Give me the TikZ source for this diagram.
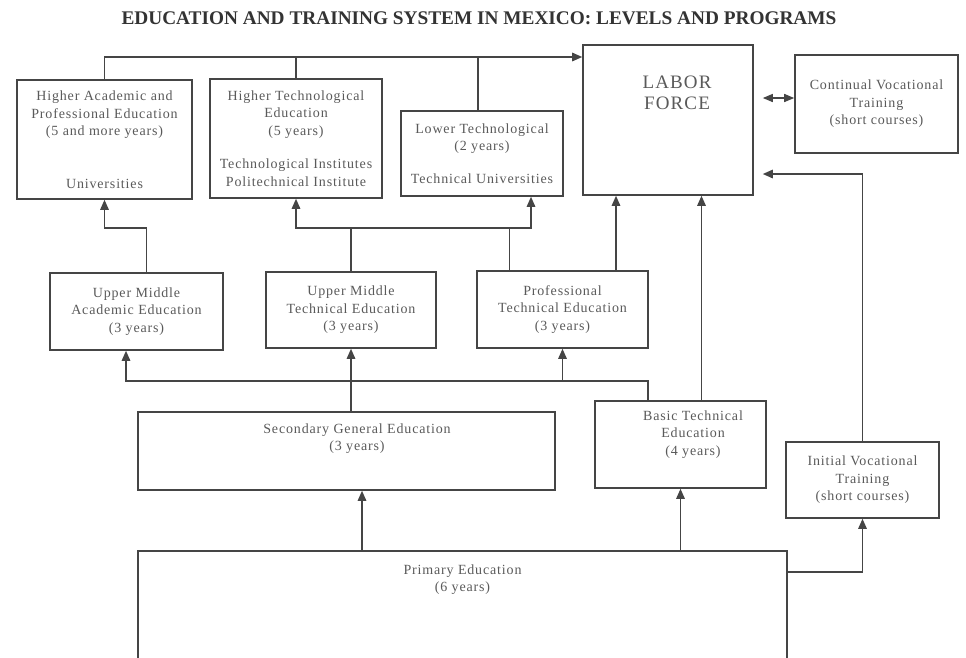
\documentclass[tikz,border=0pt]{standalone}
\usepackage{fontspec}
\setmainfont{Liberation Serif}
\newfontfamily\boxfont{Liberation Serif}[LetterSpace=6]
\usetikzlibrary{arrows.meta,positioning}
\definecolor{ink}{HTML}{454545}
\definecolor{txt}{HTML}{5A5A5A}

\begin{document}
\begin{tikzpicture}[x=1pt,y=-1pt,
    box/.style={draw=ink,line width=1.6pt,inner sep=0pt,align=center,text=txt,
      font={\boxfont\fontsize{14}{17.5}\selectfont}},
    lbl/.style={inner sep=0pt,align=center,text=txt,
      font={\boxfont\fontsize{14}{17.5}\selectfont}},
    link/.style={draw=ink,line width=1.4pt},
    >={Triangle[length=10pt,width=8.5pt]}]
    \useasboundingbox[fill=white] (0,0) rectangle (966,657);

    \node[font=\bfseries\fontsize{19.3}{22}\selectfont,text=black!80] (title) at (479,18)
        {EDUCATION AND TRAINING SYSTEM IN MEXICO: LEVELS AND PROGRAMS};

    % higher education and labor force
    \node[box,minimum width=175,minimum height=119] (hape) at (104.5,139.5)
        {Higher Academic and\\Professional Education\\(5 and more years)\\[35pt]Universities};
    \node[box,minimum width=172,minimum height=119] (hte) at (296,138.5)
        {Higher Technological\\Education\\(5 years)\\[16pt]Technological Institutes\\Politechnical Institute};
    \node[box,minimum width=162,minimum height=85] (lt) at (482,153.5)
        {Lower Technological\\(2 years)\\[15pt]Technical Universities};
    \node[box,minimum width=170,minimum height=150] (labor) at (668,120) {};
    \node[lbl,font={\boxfont\fontsize{19}{21}\selectfont}] (labortxt)
        [below=32pt of labor.north, xshift=9pt] {LABOR\\FORCE};
    \node[box,minimum width=163,minimum height=98] (continual) at (876.5,104)
        {Continual Vocational\\Training\\(short courses)};

    % upper middle level
    \node[box,minimum width=173,minimum height=77] (umae) at (136.5,311.5)
        {Upper Middle\\Academic Education\\(3 years)};
    \node[box,minimum width=170,minimum height=76] (umte) at (351,310)
        {Upper Middle\\Technical Education\\(3 years)};
    \node[box,minimum width=171,minimum height=77] (pte) at (562.5,309.5)
        {Professional\\Technical Education\\(3 years)};

    % secondary level
    \node[box,minimum width=417,minimum height=78] (secondary) at (346.5,451) {};
    \node[lbl] (secondarytxt) [below=12pt of secondary.north, xshift=10.5pt]
        {Secondary General Education\\(3 years)};
    \node[box,minimum width=171,minimum height=87] (basic) at (680.5,444.5) {};
    \node[lbl] (basictxt) [below=10pt of basic.north, xshift=12.5pt]
        {Basic Technical\\Education\\(4 years)};
    \node[box,minimum width=153,minimum height=76] (initial) at (862.5,480)
        {Initial Vocational\\Training\\(short courses)};

    % primary level
    \node[box,minimum width=649,minimum height=149] (primary) at (462.5,625.5) {};
    \node[lbl] (primarytxt) [below=14pt of primary.north] {Primary Education\\(6 years)};

    \coordinate (bus1) at (0,57);
    \coordinate (bus2) at (0,228);
    \coordinate (bus3) at (0,381);
    \coordinate (bus4) at (0,572);
    \coordinate (bus5) at (0,174);
    \coordinate (bus6) at (0,98);
    \coordinate (lt-up) at ([xshift=-4pt]lt.north);
    \coordinate (lt-in) at ([xshift=49pt]lt.south);
    \coordinate (umae-up) at ([xshift=10pt]umae.north);
    \coordinate (umae-in) at ([xshift=-10.5pt]umae.south);
    \coordinate (pte-l) at ([xshift=-53.5pt]pte.north);
    \coordinate (pte-r) at ([xshift=53.5pt]pte.north);
    \coordinate (basic-l) at ([xshift=-32.5pt]basic.north);
    \coordinate (basic-up) at ([xshift=21pt]basic.north);
    \coordinate (sec-in) at ([xshift=15.5pt]secondary.south);
    \coordinate (lab-r) at ([xshift=9pt]labor.east);

    % into labor force
    \draw[link,->] (hape.north) |- (labor.west |- bus1);
    \draw[link] (hte.north) -- (hte.north |- bus1);
    \draw[link] (lt-up) -- (lt-up |- bus1);
    \draw[link,->] (pte-r) -- (pte-r |- labor.south);
    \draw[link,->] (basic-up) -- (basic-up |- labor.south);
    \draw[link,->] (initial.north) |- (lab-r |- bus5);
    \draw[link,{Triangle[length=10pt,width=8pt]}-{Triangle[length=10pt,width=8pt]}]
        (lab-r |- bus6) -- (continual.west |- bus6);

    % upper middle to higher
    \draw[link,->] (umae-up) -- (umae-up |- bus2) -| (hape.south);
    \draw[link,->] (umte.north) -- (umte.north |- bus2) -| (hte.south);
    \draw[link,->] (umte.north |- bus2) -| (lt-in);
    \draw[link,line width=0.9pt] (pte-l) -- (pte-l |- bus2);

    % secondary to upper middle
    \draw[link,->] (basic-l) |- (umae-in |- bus3) -- (umae-in);
    \draw[link,->] (pte.south |- bus3) -- (pte.south);
    \draw[link,->] (secondary.north -| umte.south) -- (umte.south);

    % primary
    \draw[link,->] (primary.north -| sec-in) -- (sec-in);
    \draw[link,->] (primary.north -| basic.south) -- (basic.south);
    \draw[link,->] (primary.east |- bus4) -| (initial.south);
\end{tikzpicture}
\end{document}
